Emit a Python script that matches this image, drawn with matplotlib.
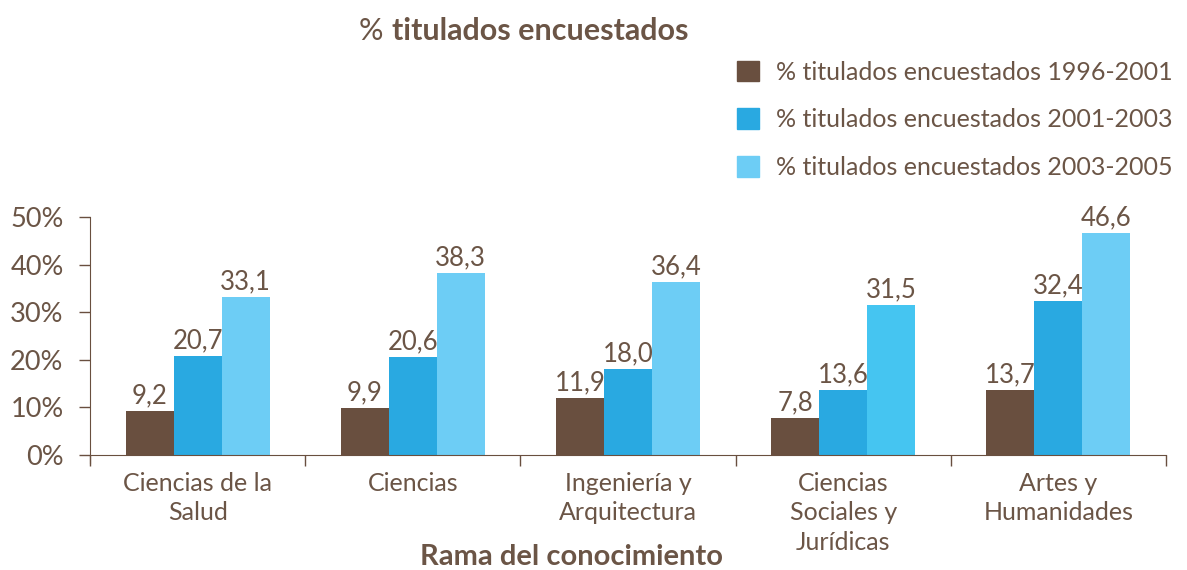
import matplotlib.pyplot as plt
import numpy as np
from matplotlib.patches import Patch

categories = ["Ciencias de la\nSalud", "Ciencias", "Ingeniería y\nArquitectura",
              "Ciencias\nSociales y\nJurídicas", "Artes y\nHumanidades"]
series_names = ["% titulados encuestados 1996-2001",
                "% titulados encuestados 2001-2003",
                "% titulados encuestados 2003-2005"]
v1996 = [9.2, 9.9, 11.9, 7.8, 13.7]
v2001 = [20.7, 20.6, 18.0, 13.6, 32.4]
v2003 = [33.1, 38.3, 36.4, 31.5, 46.6]
yticks = [0, 10, 20, 30, 40, 50]

brown = "#694f3f"
blue = "#29a9e1"
light = "#6dcdf5"
txt = "#6b5546"

plt.rcParams["font.family"] = ["Lato", "DejaVu Sans"]

fig = plt.figure(figsize=(11.87, 5.7), dpi=100)
ax = fig.add_axes([90/1187, 115/570, 1076/1187, 238/570])

x = np.arange(len(categories))
w = 0.223
light_cols = [light, light, light, "#45c5f1", light]
b1 = ax.bar(x - w, v1996, w, color=brown)
b2 = ax.bar(x, v2001, w, color=blue)
b3 = ax.bar(x + w, v2003, w, color=light_cols)

for bars, vals in [(b1, v1996), (b2, v2001), (b3, v2003)]:
    ax.bar_label(bars, labels=[f"{v:.1f}".replace(".", ",") for v in vals],
                 padding=2, fontsize=18.5, color=txt)

ax.set_xlim(-0.5, len(categories) - 0.5)
ax.set_ylim(0, 50)
ax.set_yticks(yticks)
ax.set_yticklabels([f"{t}%" for t in yticks])
ax.set_xticks(x)
ax.set_xticklabels(categories, linespacing=1.35)
ax.set_xticks(np.arange(len(categories) + 1) - 0.5, minor=True)
ax.tick_params(axis="x", which="major", length=0, pad=12, labelsize=18, labelcolor=txt)
ax.tick_params(axis="x", which="minor", length=8, color=brown, width=1)
ax.tick_params(axis="y", length=8, color=brown, width=1, labelsize=19.5, labelcolor=txt, pad=11)

for s in ["top", "right"]:
    ax.spines[s].set_visible(False)
ax.spines["left"].set_color(brown)
ax.spines["bottom"].set_color(brown)
ax.spines["left"].set_bounds(-1.6, 50)

fig.text(571/1187, 1 - 557/570, "Rama del conocimiento", ha="center", va="center",
         fontsize=21, fontweight="bold", color=txt)

fig.text(383/1187, 0.945, "%", ha="right", va="center", fontsize=22, color=txt)
fig.text(392/1187, 0.945, "titulados encuestados", ha="left", va="center",
         fontsize=22, fontweight="bold", color=txt)

handles = [Patch(color=brown), Patch(color=blue), Patch(color=light)]
fig.legend(handles, series_names, loc="upper left", bbox_to_anchor=(714/1187, 1 - 38/570),
           frameon=False, fontsize=18, labelcolor=txt, handlelength=0.88, handleheight=0.88,
           handletextpad=0.72, labelspacing=0.99)

fig.savefig("out.png", dpi=100)
